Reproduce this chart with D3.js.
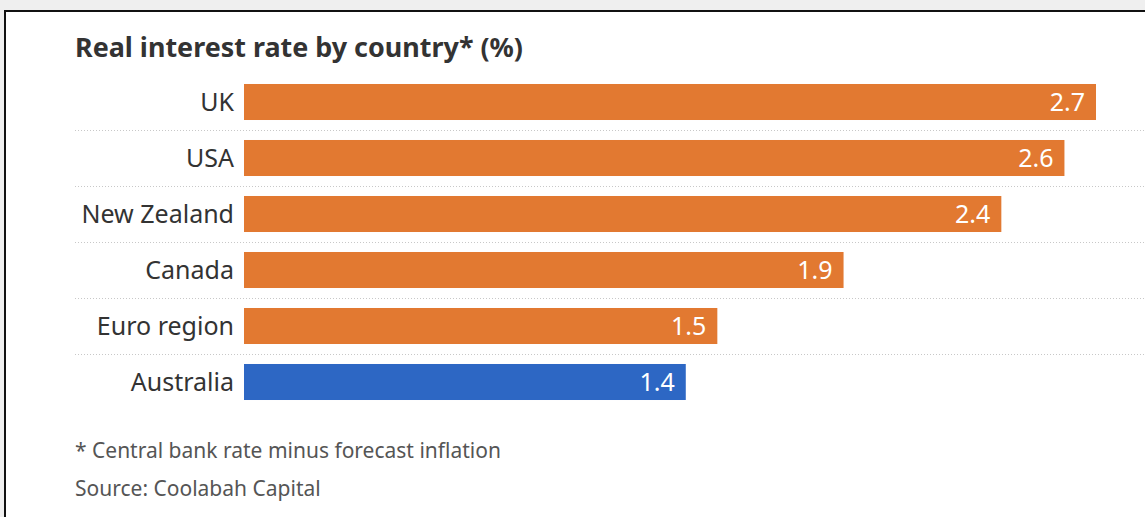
<!DOCTYPE html>
<html>
<head>
<meta charset="utf-8">
<script src="https://cdn.jsdelivr.net/npm/d3@7"></script>
<style>
  body { margin: 0; background: #efefef; }
  svg { display: block; }
  text { font-family: "Noto Sans", "Open Sans", sans-serif; }
</style>
</head>
<body>
<svg id="chart" width="1145" height="517"></svg>
<script>
// data
var countries = ["UK", "USA", "New Zealand", "Canada", "Euro region", "Australia"];
var rates = [2.7, 2.6, 2.4, 1.9, 1.5, 1.4];
var highlight = ["Australia"];

var title = "Real interest rate by country* (%)";
var notes = ["* Central bank rate minus forecast inflation", "Source: Coolabah Capital"];

var W = 1145, H = 517;
var orange = "#e27931", blue = "#2d67c4";

var svg = d3.select("#chart");

// white panel with dark edge on top/left
svg.append("rect")
    .attr("x", 5).attr("y", 11)
    .attr("width", W + 10).attr("height", H + 10)
    .attr("fill", "#fff")
    .attr("stroke", "#111")
    .attr("stroke-width", 2);

var x = d3.scaleLinear().domain([0, 2.7]).range([244, 1096]);
var y = d3.scaleBand().domain(countries).range([74, 74 + 56 * 6])
    .paddingInner(0.357).paddingOuter(0.1785);

svg.append("text")
    .attr("x", 75).attr("y", 57)
    .attr("font-size", 26)
    .attr("font-weight", 700)
    .attr("fill", "#333")
    .attr("textLength", 448)
    .attr("lengthAdjust", "spacingAndGlyphs")
    .text(title);

// dotted separators between rows
svg.append("g").selectAll("line")
    .data(countries.slice(0, -1))
    .join("line")
    .attr("x1", 75).attr("x2", W)
    .attr("y1", function(d) { return y(d) + y.bandwidth() + 10.5; })
    .attr("y2", function(d) { return y(d) + y.bandwidth() + 10.5; })
    .attr("stroke", "#c8c8c8")
    .attr("stroke-width", 1)
    .attr("stroke-dasharray", "1,2");

var rows = countries.map(function(c, i) { return { name: c, value: rates[i] }; });

var row = svg.append("g").selectAll("g")
    .data(rows)
    .join("g");

row.append("rect")
    .attr("x", x(0))
    .attr("y", function(d) { return y(d.name); })
    .attr("width", function(d) { return x(d.value) - x(0); })
    .attr("height", y.bandwidth())
    .attr("fill", function(d) { return highlight.indexOf(d.name) >= 0 ? blue : orange; });

row.append("text")
    .attr("x", 234)
    .attr("y", function(d) { return y(d.name) + y.bandwidth() / 2; })
    .attr("dy", "0.34em")
    .attr("text-anchor", "end")
    .attr("font-size", 25)
    .attr("fill", "#333")
    .text(function(d) { return d.name; });

row.append("text")
    .attr("x", function(d) { return x(d.value) - 11; })
    .attr("y", function(d) { return y(d.name) + y.bandwidth() / 2; })
    .attr("dy", "0.34em")
    .attr("text-anchor", "end")
    .attr("font-size", 25)
    .attr("fill", "#fff")
    .text(function(d) { return d3.format(".1f")(d.value); });

svg.append("g").selectAll("text")
    .data(notes)
    .join("text")
    .attr("x", 75)
    .attr("y", function(d, i) { return 458 + i * 38; })
    .attr("font-size", 21)
    .attr("fill", "#555")
    .text(function(d) { return d; });
</script>
</body>
</html>
